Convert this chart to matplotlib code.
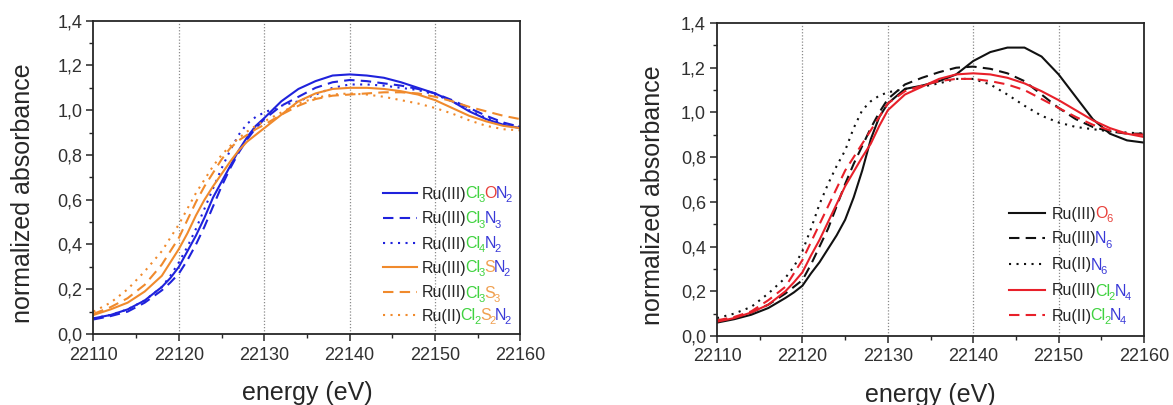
import numpy as np
import matplotlib
matplotlib.use("Agg")
import matplotlib.pyplot as plt
from matplotlib.ticker import MultipleLocator, FuncFormatter
from matplotlib.lines import Line2D

plt.rcParams.update({"font.family": ["Liberation Sans", "DejaVu Sans"]})

INK = "#262626"
BLUE, ORANGE, RED, BLACK = "#1f22dc", "#f08a2c", "#e8202a", "#111111"
GREEN, TBLUE, TRED, TORANGE = "#3fd23f", "#3a3ad8", "#e8403a", "#f0a050"

# ---- data: energy grid (eV) and normalized absorbance -----------------------
energy = [22110, 22112, 22114, 22116, 22118, 22119, 22120, 22121, 22122, 22123,
          22124, 22125, 22126, 22127, 22128, 22129, 22130, 22132, 22134, 22136,
          22138, 22140, 22142, 22144, 22146, 22148, 22150, 22152, 22154, 22156,
          22158, 22160]

# left panel
cl3on2 = [0.07, 0.085, 0.11, 0.15, 0.21, 0.25, 0.30, 0.37, 0.44, 0.52,
          0.61, 0.68, 0.75, 0.82, 0.88, 0.93, 0.965, 1.04, 1.095, 1.13,
          1.155, 1.16, 1.155, 1.145, 1.125, 1.10, 1.075, 1.04, 0.995, 0.96,
          0.935, 0.92]
cl3n3 = [0.065, 0.08, 0.10, 0.14, 0.195, 0.23, 0.27, 0.33, 0.40, 0.48,
         0.57, 0.66, 0.74, 0.81, 0.87, 0.92, 0.96, 1.02, 1.06, 1.10,
         1.125, 1.135, 1.13, 1.12, 1.11, 1.095, 1.075, 1.045, 1.01, 0.975,
         0.945, 0.925]
cl4n2 = [0.07, 0.085, 0.11, 0.15, 0.21, 0.26, 0.32, 0.39, 0.47, 0.56,
         0.65, 0.74, 0.82, 0.89, 0.94, 0.97, 0.99, 1.02, 1.04, 1.07,
         1.10, 1.115, 1.115, 1.11, 1.10, 1.09, 1.07, 1.04, 1.00, 0.965,
         0.94, 0.925]
cl3sn2 = [0.085, 0.11, 0.14, 0.19, 0.26, 0.32, 0.38, 0.45, 0.53, 0.60,
          0.66, 0.715, 0.77, 0.82, 0.86, 0.89, 0.92, 0.98, 1.04, 1.075,
          1.095, 1.10, 1.10, 1.095, 1.085, 1.07, 1.045, 1.01, 0.975, 0.95,
          0.93, 0.92]
cl3s3 = [0.09, 0.12, 0.16, 0.22, 0.31, 0.37, 0.43, 0.51, 0.59, 0.66,
         0.72, 0.78, 0.83, 0.865, 0.89, 0.915, 0.935, 0.98, 1.02, 1.05,
         1.065, 1.07, 1.075, 1.08, 1.08, 1.075, 1.06, 1.04, 1.015, 0.995,
         0.975, 0.96]
cl2s2n2 = [0.10, 0.14, 0.20, 0.28, 0.37, 0.43, 0.49, 0.56, 0.63, 0.69,
           0.75, 0.80, 0.84, 0.875, 0.905, 0.93, 0.95, 0.99, 1.03, 1.055,
           1.07, 1.075, 1.07, 1.06, 1.045, 1.03, 1.01, 0.985, 0.955, 0.93,
           0.915, 0.91]

# right panel
o6 = [0.06, 0.075, 0.095, 0.125, 0.17, 0.195, 0.225, 0.28, 0.33, 0.39,
      0.45, 0.52, 0.62, 0.74, 0.88, 0.98, 1.04, 1.105, 1.12, 1.14,
      1.17, 1.23, 1.27, 1.29, 1.29, 1.25, 1.17, 1.07, 0.97, 0.905,
      0.875, 0.865]
n6_iii = [0.065, 0.08, 0.105, 0.14, 0.19, 0.22, 0.25, 0.32, 0.40, 0.48,
          0.58, 0.68, 0.77, 0.85, 0.93, 1.00, 1.06, 1.125, 1.155, 1.18,
          1.20, 1.205, 1.195, 1.175, 1.14, 1.08, 1.02, 0.97, 0.935, 0.915,
          0.905, 0.905]
n6_ii = [0.08, 0.10, 0.13, 0.19, 0.26, 0.31, 0.38, 0.48, 0.59, 0.68,
         0.76, 0.83, 0.93, 1.01, 1.05, 1.075, 1.09, 1.105, 1.115, 1.13,
         1.15, 1.15, 1.125, 1.08, 1.03, 0.985, 0.955, 0.935, 0.925, 0.915,
         0.91, 0.905]
cl2n4_iii = [0.064, 0.08, 0.105, 0.14, 0.20, 0.24, 0.285, 0.36, 0.43, 0.51,
             0.59, 0.67, 0.735, 0.80, 0.86, 0.94, 1.01, 1.08, 1.115, 1.15,
             1.17, 1.175, 1.17, 1.155, 1.13, 1.095, 1.055, 1.01, 0.965, 0.93,
             0.905, 0.89]
cl2n4_ii = [0.07, 0.085, 0.11, 0.16, 0.22, 0.28, 0.34, 0.42, 0.50, 0.58,
            0.66, 0.74, 0.80, 0.86, 0.92, 0.98, 1.04, 1.095, 1.12, 1.14,
            1.15, 1.15, 1.14, 1.125, 1.10, 1.06, 1.02, 0.98, 0.945, 0.92,
            0.905, 0.90]

# legend labels: (symbol, subscript, colour) pieces
left_labels = [
    [("Ru(III)", "", INK), ("Cl", "3", GREEN), ("O", "", TRED), ("N", "2", TBLUE)],
    [("Ru(III)", "", INK), ("Cl", "3", GREEN), ("N", "3", TBLUE)],
    [("Ru(III)", "", INK), ("Cl", "4", GREEN), ("N", "2", TBLUE)],
    [("Ru(III)", "", INK), ("Cl", "3", GREEN), ("S", "", TORANGE), ("N", "2", TBLUE)],
    [("Ru(III)", "", INK), ("Cl", "3", GREEN), ("S", "3", TORANGE)],
    [("Ru(II)", "", INK), ("Cl", "2", GREEN), ("S", "2", TORANGE), ("N", "2", TBLUE)],
]
right_labels = [
    [("Ru(III)", "", INK), ("O", "6", TRED)],
    [("Ru(III)", "", INK), ("N", "6", TBLUE)],
    [("Ru(II)", "", INK), ("N", "6", TBLUE)],
    [("Ru(III)", "", INK), ("Cl", "2", GREEN), ("N", "4", TBLUE)],
    [("Ru(II)", "", INK), ("Cl", "2", GREEN), ("N", "4", TBLUE)],
]

SOLID, DASH, DOT = "-", (0, (5, 3)), (0, (1, 2.6))
left_series = [(cl3on2, BLUE, SOLID), (cl3n3, BLUE, DASH), (cl4n2, BLUE, DOT),
               (cl3sn2, ORANGE, SOLID), (cl3s3, ORANGE, DASH), (cl2s2n2, ORANGE, DOT)]
right_series = [(o6, BLACK, SOLID), (n6_iii, BLACK, DASH), (n6_ii, BLACK, DOT),
                (cl2n4_iii, RED, SOLID), (cl2n4_ii, RED, DASH)]

W, H = 1173, 405


def comma(v, _):
    return f"{v:.1f}".replace(".", ",")


def style_axes(ax, ylab_x):
    ax.set_xlim(22110, 22160); ax.set_ylim(0, 1.4)
    ax.xaxis.set_major_locator(MultipleLocator(10)); ax.xaxis.set_minor_locator(MultipleLocator(5))
    ax.yaxis.set_major_locator(MultipleLocator(0.2)); ax.yaxis.set_minor_locator(MultipleLocator(0.1))
    ax.yaxis.set_major_formatter(FuncFormatter(comma))
    ax.tick_params(which="major", direction="out", length=5, width=1.1, labelsize=13,
                   labelcolor="#303030", color=INK)
    ax.tick_params(which="minor", direction="out", length=3, width=1.0, color=INK)
    ax.tick_params(axis="x", pad=4); ax.tick_params(axis="y", pad=3)
    for s in ax.spines.values():
        s.set_linewidth(1.3); s.set_color(INK)
    for e in (22120, 22130, 22140, 22150):
        ax.axvline(e, color="#8a8a8a", lw=0.9, ls=(0, (1, 1.5)), zorder=0)
    ax.set_xlabel("energy (eV)", fontsize=18, color=INK)
    ax.set_ylabel("normalized absorbance", fontsize=18, color=INK)
    ax.xaxis.set_label_coords(0.5, -0.15)
    ax.yaxis.set_label_coords(ylab_x, 0.45)


def legend_rows(fig, series, labels, line_x, text_x, rows_y):
    """Hand-built legend: line sample + multi-coloured formula, pixel placed."""
    r = fig.canvas.get_renderer()
    for (_, col, ls), parts, yc in zip(series, labels, rows_y):
        fy = 1 - yc / H
        fig.add_artist(Line2D([line_x[0] / W, line_x[1] / W], [fy, fy],
                              transform=fig.transFigure, color=col, ls=ls, lw=1.5))
        x = text_x
        base = yc + 5.5
        for sym, sub, c in parts:
            t = fig.text(x / W, 1 - base / H, sym, fontsize=11.5, color=c, va="baseline")
            x += t.get_window_extent(r).width - 1.5
            if sub:
                t = fig.text(x / W, 1 - (base + 4) / H, sub, fontsize=8, color=c,
                             va="baseline")
                x += t.get_window_extent(r).width - 0.5


fig = plt.figure(figsize=(11.73, 4.05), dpi=100)
axL = fig.add_axes([0.0797, 0.1753, 0.3640, 0.7736])
axR = fig.add_axes([0.6113, 0.1704, 0.3640, 0.7728])

for ax, series in ((axL, left_series), (axR, right_series)):
    for y, col, ls in series:
        ax.plot(energy, y, color=col, ls=ls, lw=1.5)

style_axes(axL, -0.137)
style_axes(axR, -0.122)

legend_rows(fig, left_series, left_labels, (383, 417), 422,
            [193, 218, 243, 267, 292, 315])
legend_rows(fig, right_series, right_labels, (1009, 1045), 1052,
            [213, 238, 264, 290, 315])

fig.savefig("out.png", dpi=100, facecolor="white")
